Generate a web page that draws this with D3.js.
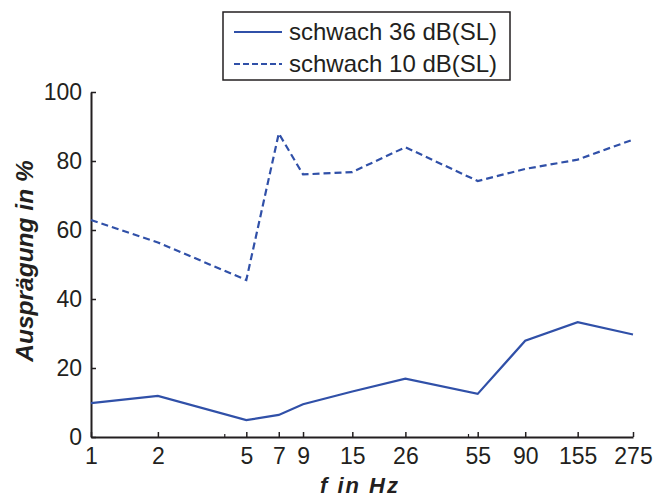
<!DOCTYPE html>
<html><head><meta charset="utf-8">
<script src="https://cdn.jsdelivr.net/npm/d3@7"></script>
<style>body{margin:0;background:#fff}svg{display:block}text{font-family:"Liberation Sans",Arial,sans-serif;fill:#231f20}</style>
</head><body>
<script>
const freqs = [1, 2, 5, 7, 9, 15, 26, 55, 90, 155, 275];
const tickLabels = ["1","2","5","7","9","15","26","55","90","155","275"];
const minorTicks = [4, 50];
const yTicks = [0, 20, 40, 60, 80, 100];
const seriesNames = ["schwach 36 dB(SL)", "schwach 10 dB(SL)"];
const loud36 = [9.8, 11.9, 4.9, 6.4, 9.5, 13.2, 16.9, 12.5, 27.9, 33.3, 29.7];
const soft10 = [62.9, 56.4, 45.5, 88.0, 76.1, 76.8, 84.0, 74.2, 77.7, 80.4, 86.2];

const W = 655, H = 498;
const svg = d3.select("body").append("svg").attr("width", W).attr("height", H);
const x = d3.scaleLog().domain([1, 275]).range([91, 633]);
const y = d3.scaleLinear().domain([0, 100]).range([437, 92]);
const color = "#3050a8";

// axes
const xAxis = d3.axisBottom(x).tickValues(freqs).tickFormat((d,i)=>tickLabels[i]).tickSizeInner(-5).tickSizeOuter(0).tickPadding(9);
const gx = svg.append("g").attr("transform","translate(0,437)").call(xAxis);
const yAxis = d3.axisLeft(y).tickValues(yTicks).tickSizeInner(-5).tickSizeOuter(0).tickPadding(9);
const gy = svg.append("g").attr("transform","translate(91,0)").call(yAxis);
[gx, gy].forEach(g => {
  g.select(".domain").attr("stroke","#231f20").attr("stroke-width",2);
  g.selectAll(".tick line").attr("stroke","#231f20").attr("stroke-width",1.5);
  g.selectAll(".tick text").style("font-size","23px").attr("fill","#231f20");
});
gx.selectAll(".tick text").attr("dy","0.8em");
svg.append("g").selectAll("line").data(minorTicks).join("line")
  .attr("x1", d=>x(d)).attr("x2", d=>x(d)).attr("y1",437).attr("y2",434)
  .attr("stroke","#231f20").attr("stroke-width",1.2);

// lines
const line = d3.line().x((d,i)=>x(freqs[i])).y(d=>y(d));
svg.append("path").datum(loud36).attr("d", line).attr("fill","none").attr("stroke",color).attr("stroke-width",2.2);
svg.append("path").datum(soft10).attr("d", line).attr("fill","none").attr("stroke",color).attr("stroke-width",2.2).attr("stroke-dasharray","7,4");

// axis labels
svg.append("text").attr("x",360).attr("y",493).attr("text-anchor","middle")
  .style("font-size","22px").style("font-weight","bold").style("font-style","italic").style("letter-spacing","2px").text("f in Hz");
svg.append("text").attr("transform","translate(33,261) rotate(-90)").attr("text-anchor","middle")
  .style("font-size","24.5px").style("font-weight","bold").style("font-style","italic").text("Ausprägung in %");

// legend
const lg = svg.append("g");
lg.append("rect").attr("x",223).attr("y",12).attr("width",287).attr("height",68).attr("fill","#fff").attr("stroke","#231f20").attr("stroke-width",1.5);
const rows = [{n:seriesNames[0],dash:null,yy:32},{n:seriesNames[1],dash:"6,3",yy:64}];
rows.forEach(r=>{
  lg.append("line").attr("x1",234).attr("x2",282).attr("y1",r.yy).attr("y2",r.yy).attr("stroke",color).attr("stroke-width",2).attr("stroke-dasharray",r.dash);
  lg.append("text").attr("x",289).attr("y",r.yy+8).style("font-size","24px").text(r.n);
});
</script>
</body></html>
